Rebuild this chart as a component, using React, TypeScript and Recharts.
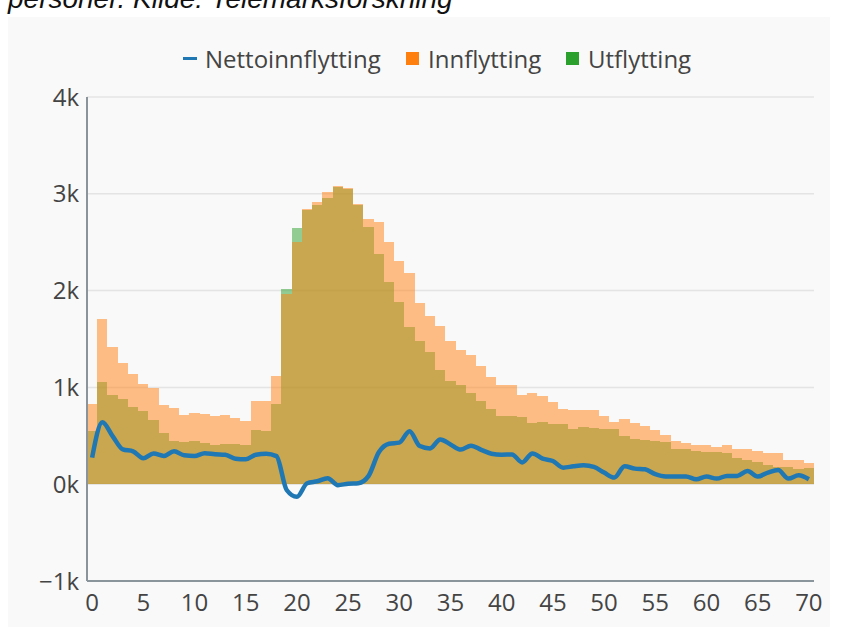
import { ComposedChart, Bar, Line, XAxis, YAxis, CartesianGrid } from 'recharts';

const ages = [
  0, 1, 2, 3, 4, 5, 6, 7, 8, 9, 10, 11, 12, 13, 14, 15, 16, 17, 18, 19, 20,
  21, 22, 23, 24, 25, 26, 27, 28, 29, 30, 31, 32, 33, 34, 35, 36, 37, 38, 39, 40,
  41, 42, 43, 44, 45, 46, 47, 48, 49, 50, 51, 52, 53, 54, 55, 56, 57, 58, 59, 60,
  61, 62, 63, 64, 65, 66, 67, 68, 69, 70,
];

const innflytting = [
  829, 1706, 1418, 1247, 1140, 1034, 990, 815, 784, 719, 733, 726, 702, 719, 685, 654, 860, 860, 1115, 1960, 2507,
  2840, 2915, 3014, 3080, 3060, 2895, 2740, 2706, 2500, 2308, 2182, 1877, 1736, 1637, 1483, 1387, 1336, 1216, 1103, 1021,
  1021, 925, 942, 908, 846, 781, 764, 764, 764, 702, 640, 675, 635, 605, 558, 507, 445, 428, 404, 404,
  387, 401, 366, 366, 339, 325, 325, 247, 247, 223,
];

const utflytting = [
  548, 1051, 925, 880, 795, 760, 668, 531, 445, 435, 449, 421, 404, 418, 418, 401, 558, 545, 829, 2021, 2644,
  2830, 2885, 2952, 3075, 3050, 2884, 2654, 2373, 2089, 1884, 1627, 1483, 1370, 1178, 1069, 1021, 947, 863, 781, 702,
  700, 695, 634, 640, 617, 617, 572, 593, 579, 572, 572, 497, 470, 455, 450, 435, 366, 360, 342, 335,
  335, 320, 274, 250, 230, 200, 175, 180, 155, 165,
];

const nettoinnflytting = [
  275, 640, 497, 360, 340, 268, 318, 291, 340, 298, 291, 320, 310, 305, 264, 257, 305, 315, 290, -60, -130,
  10, 30, 62, -10, 5, 10, 86, 330, 418, 430, 548, 394, 370, 462, 411, 358, 398, 355, 315, 305,
  308, 225, 318, 264, 240, 171, 185, 195, 178, 120, 68, 185, 161, 154, 103, 79, 79, 79, 51, 79,
  58, 86, 86, 137, 79, 120, 147, 58, 92, 51,
];

const yTicks = [-1000, 0, 1000, 2000, 3000, 4000];

const data = ages.map((age, i) => ({
  age,
  inn: innflytting[i],
  ut: utflytting[i],
  netto: nettoinnflytting[i],
}));

const fmtK = (v: number) => (v < 0 ? `\u2212${Math.abs(v) / 1000}k` : `${v / 1000}k`);

const font = '"Open Sans", sans-serif';
const tickStyle = { fontFamily: font, fontSize: 24, fill: '#444' };

const CHART_W = 822;
const MARGIN = { top: 80, right: 16, left: 0, bottom: 0 };
const Y_AXIS_W = 79;
const BAND = (CHART_W - MARGIN.left - MARGIN.right - Y_AXIS_W) / ages.length;

// recharts truncates bar width to whole pixels; widen each bar to its full band
// and snap edges so neighbouring bars meet without seams
const BandBar = (props: any) => {
  const { x, y, width, height, fill, fillOpacity } = props;
  if (!height) return null;
  const c = x + width / 2;
  const x0 = Math.round(c - BAND / 2);
  const x1 = Math.round(c + BAND / 2);
  const y0 = Math.round(y);
  const y1 = Math.round(y + height);
  return <rect x={x0} y={y0} width={x1 - x0} height={y1 - y0} fill={fill} fillOpacity={fillOpacity} />;
};

export default function App() {
  return (
    <div style={{ position: 'absolute', left: 0, top: 0, width: 854, height: 627, overflow: 'hidden', background: '#fff' }}>
      <div
        style={{
          position: 'absolute', left: 8, top: -17, fontFamily: '"Liberation Sans", Arial, sans-serif',
          fontStyle: 'italic', fontSize: 28, color: '#111', whiteSpace: 'nowrap',
        }}
      >
        personer. Kilde: Telemarksforskning
      </div>
      <div style={{ position: 'absolute', left: 8, top: 17, width: CHART_W, height: 610, background: '#f9f9f9' }}>
        <ComposedChart width={CHART_W} height={610} data={data} margin={MARGIN} barCategoryGap={0} barGap={0}>
          <CartesianGrid vertical={false} stroke="#e4e4e4" strokeWidth={1.5} />
          <XAxis
            xAxisId="a" dataKey="age" height={46} interval={4} tickLine={false}
            axisLine={{ stroke: '#8a949b', strokeWidth: 2 }} tick={{ ...tickStyle, dy: 5 }}
          />
          <XAxis xAxisId="b" dataKey="age" hide />
          <YAxis
            xAxisId="a" type="number" domain={[-1000, 4000]} ticks={yTicks} width={Y_AXIS_W} tickLine={false}
            axisLine={{ stroke: '#8a949b', strokeWidth: 2 }} tick={tickStyle} tickFormatter={fmtK} allowDataOverflow
          />
          <Bar xAxisId="b" dataKey="ut" name="Utflytting" fill="#2ca02c" fillOpacity={0.5} shape={BandBar} isAnimationActive={false} />
          <Bar xAxisId="a" dataKey="inn" name="Innflytting" fill="#ff7f0e" fillOpacity={0.5} shape={BandBar} isAnimationActive={false} />
          <Line
            xAxisId="a" type="monotone" dataKey="netto" name="Nettoinnflytting" stroke="#1f77b4" strokeWidth={4.5}
            dot={false} activeDot={false} isAnimationActive={false}
          />
        </ComposedChart>
      </div>
      <div style={{ position: 'absolute', left: 0, top: 42, width: 854, height: 32, fontFamily: font, fontSize: 24, color: '#444' }}>
        <div style={{ position: 'absolute', left: 183, top: 0, display: 'flex', alignItems: 'center', height: 32 }}>
          <span style={{ display: 'inline-block', width: 14, height: 3, background: '#1f77b4', marginRight: 8 }} />
          <span>Nettoinnflytting</span>
        </div>
        <div style={{ position: 'absolute', left: 406, top: 0, display: 'flex', alignItems: 'center', height: 32 }}>
          <span style={{ display: 'inline-block', width: 13, height: 13, background: '#ff7f0e', marginRight: 9 }} />
          <span>Innflytting</span>
        </div>
        <div style={{ position: 'absolute', left: 566, top: 0, display: 'flex', alignItems: 'center', height: 32 }}>
          <span style={{ display: 'inline-block', width: 13, height: 13, background: '#2ca02c', marginRight: 9 }} />
          <span>Utflytting</span>
        </div>
      </div>
    </div>
  );
}
